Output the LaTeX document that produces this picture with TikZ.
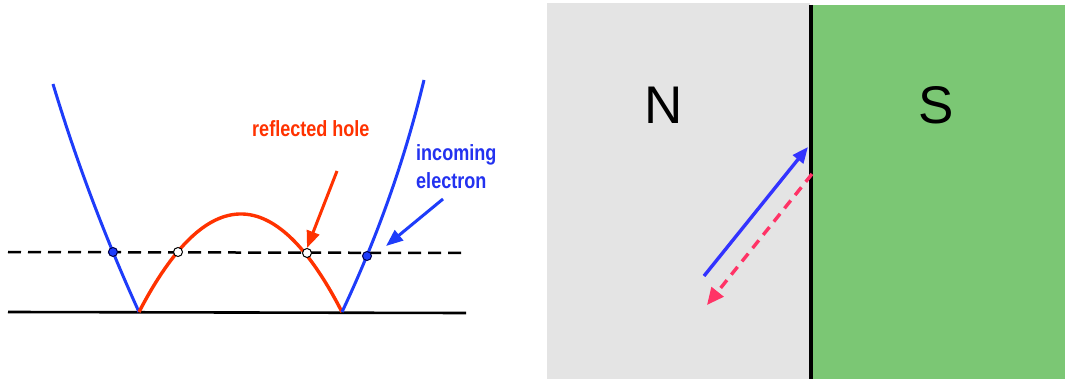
\documentclass[tikz,border=0pt]{standalone}
\usepackage{fontspec}
\setmainfont{Liberation Sans}
\usetikzlibrary{arrows.meta}
\definecolor{cblue}{RGB}{30,60,250}
\definecolor{cred}{RGB}{255,50,0}
\definecolor{tblue}{RGB}{35,50,240}
\definecolor{ngrey}{HTML}{E4E4E4}
\definecolor{sgreen}{HTML}{7BC774}
\definecolor{abluer}{HTML}{3333FF}
\definecolor{apink}{HTML}{FF3366}
\begin{document}
\begin{tikzpicture}[x=1pt,y=-1pt,
  axisline/.style={draw=black,line width=2.6pt},
  dashline/.style={draw=black,line width=2.5pt,dash pattern=on 13pt off 7pt},
  bluecurve/.style={draw=cblue,line width=3pt},
  redcurve/.style={draw=cred,line width=3.4pt},
  bdot/.style={circle,inner sep=0pt,minimum size=9pt,fill=cblue,draw=black!70!blue,line width=1pt},
  wdot/.style={circle,inner sep=0pt,minimum size=9pt,fill=white,draw=black,line width=1pt},
  lbl/.style={font=\fontsize{22}{28}\bfseries\addfontfeatures{FakeStretch=0.82},inner sep=0pt,align=left},
  big/.style={font=\fontsize{53}{60}\selectfont,inner sep=0pt},
  redarrow/.style={draw=cred,line width=3pt,-{Triangle[length=17pt,width=13pt]}},
  bluearrow/.style={draw=cblue,line width=3pt,-{Triangle[length=17pt,width=13pt]}},
  inarrow/.style={draw=abluer,line width=3.4pt,-{Triangle[length=16pt,width=13pt]}},
  outarrow/.style={draw=apink,line width=3.4pt,dash pattern=on 10pt off 7pt,-{Triangle[length=17pt,width=15pt]}}
]
\useasboundingbox (0,0) rectangle (1065,379);
\fill[white] (0,0) rectangle (1065,379);

% ---- left: band picture ----
\coordinate (L0) at (8,312);
\coordinate (L1) at (466,313);
\coordinate (D0) at (8,252);
\coordinate (D1) at (463,253);
\coordinate (vl) at (139,312);
\coordinate (vr) at (342,312);
\coordinate (tl) at (53,84);
\coordinate (tr) at (424,80);

\draw[dashline] (D0) -- (D1);
\draw[axisline] (L0) -- (L1);
\draw[bluecurve] (vl) .. controls (105,237.3) and (76.3,161.3) .. (tl);
\draw[redcurve] (vl) .. controls (207,181.3) and (275,181.3) .. (vr);
\draw[bluecurve] (vr) .. controls (377.3,237.3) and (404.7,160) .. (tr);

\node[bdot] (e1) at (113,252) {};
\node[wdot] (h1) at (178,252) {};
\node[wdot] (h2) at (307,253) {};
\node[bdot] (e2) at (367,256) {};

\node[lbl,text=cred,anchor=base west] (rh) at (252,137) {reflected hole};
\node[lbl,text=tblue,anchor=base west] (ie) at (416,189) {incoming\\electron};

\coordinate (ra) at (337,171);
\coordinate (ba) at (443,199);
\draw[redarrow] (ra) -- (h2.north);
\draw[bluearrow] (ba) -- (386,246);

% ---- right: N/S junction ----
\fill[ngrey] (547,3) rectangle (810,379);
\fill[sgreen] (810,5) rectangle (1065,379);
\coordinate (j0) at (811,5);
\coordinate (j1) at (811,379);
\draw[line width=4pt] (j0) -- (j1);

\node[big] (N) at (664,105) {N};
\node[big] (S) at (936,105) {S};

\coordinate (a0) at (704,276);
\coordinate (a1) at (808,147);
\coordinate (b0) at (812,174);
\coordinate (b1) at (707,305);
\draw[inarrow] (a0) -- (a1);
\draw[outarrow] (b0) -- (b1);
\end{tikzpicture}
\end{document}
